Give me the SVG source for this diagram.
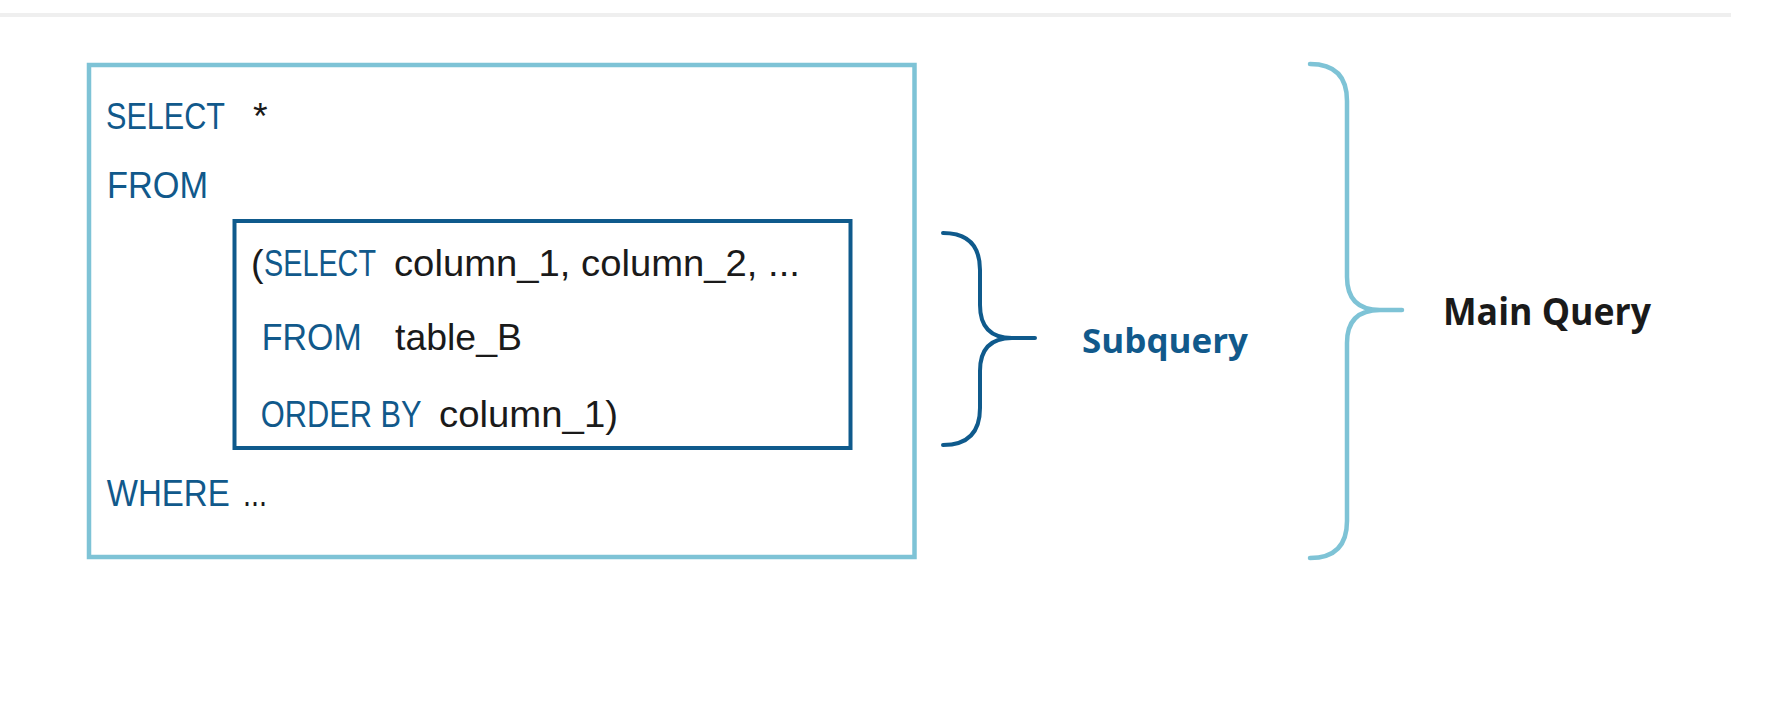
<svg xmlns="http://www.w3.org/2000/svg" width="1791" height="720" viewBox="0 0 1791 720">
  <style>
    .code { font-family: "Liberation Sans", Arial, sans-serif; font-size: 37.5px; }
    .kw { fill: #11598b; }
    .tx { fill: #1a1a1a; }
    .lbl { font-family: "Open Sans", "Liberation Sans", sans-serif; font-weight: bold; }
    .outer { fill: none; stroke: #7ec3d6; stroke-width: 4.5; }
    .inner { fill: none; stroke: #0f5a8c; stroke-width: 4; }
    .brace-light { fill: none; stroke: #7ec3d6; stroke-width: 4.5; stroke-linecap: round; stroke-linejoin: round; }
    .brace-dark { fill: none; stroke: #0f5a8c; stroke-width: 4; stroke-linecap: round; stroke-linejoin: round; }
  </style>
  <rect x="0" y="0" width="1791" height="720" fill="#ffffff"/>
  <rect x="0" y="13" width="1731" height="4" fill="#efefef"/>

  <g id="main-query-box">
    <rect class="outer" x="89" y="65" width="825.5" height="492"/>
    <text class="code kw" x="106" y="128.5" textLength="119" lengthAdjust="spacingAndGlyphs">SELECT</text>
    <text class="code tx" x="253" y="128.5">*</text>
    <text class="code kw" x="107" y="197.7" textLength="101" lengthAdjust="spacingAndGlyphs">FROM</text>
    <text class="code kw" x="106.7" y="506" textLength="123" lengthAdjust="spacingAndGlyphs">WHERE</text>
    <text class="code tx" x="243" y="506" textLength="24" lengthAdjust="spacingAndGlyphs">...</text>
  </g>

  <g id="subquery-box">
    <rect class="inner" x="234.5" y="221" width="616" height="227"/>
    <text class="code tx" x="251" y="276">(</text>
    <g transform="translate(264,276) scale(0.768,1)">
      <text class="code kw" x="0" y="0">SELECT</text>
    </g>
    <text class="code tx" x="394" y="276" textLength="406" lengthAdjust="spacingAndGlyphs">column_1, column_2, ...</text>
    <text class="code kw" x="261.7" y="350" textLength="100" lengthAdjust="spacingAndGlyphs">FROM</text>
    <text class="code tx" x="395" y="350" textLength="127" lengthAdjust="spacingAndGlyphs">table_B</text>
    <g transform="translate(260.7,427) scale(0.822,1)">
      <text class="code kw" x="0" y="0">ORDER BY</text>
    </g>
    <text class="code tx" x="439" y="427" textLength="179" lengthAdjust="spacingAndGlyphs">column_1)</text>
  </g>

  <g id="connectors">
    <path id="subquery-brace" class="brace-dark" d="M943,233 Q980,233 980,270 V305 Q980,338 1012,338 H1035 M1012,338 Q980,338 980,371 V408 Q980,445 943,445"/>
    <path id="main-query-brace" class="brace-light" d="M1310,64 Q1347,64 1347,101 V277 Q1347,310 1380,310 H1402 M1380,310 Q1347,310 1347,343 V521 Q1347,558 1310,558"/>
  </g>

  <g id="subquery-label">
    <text class="lbl" x="1082" y="352.7" font-size="34" fill="#11598b" textLength="166" lengthAdjust="spacingAndGlyphs">Subquery</text>
  </g>

  <g id="main-query-label">
    <text class="lbl" x="1443" y="325" font-size="38" fill="#1a1a1a" textLength="208" lengthAdjust="spacingAndGlyphs">Main Query</text>
  </g>
</svg>
